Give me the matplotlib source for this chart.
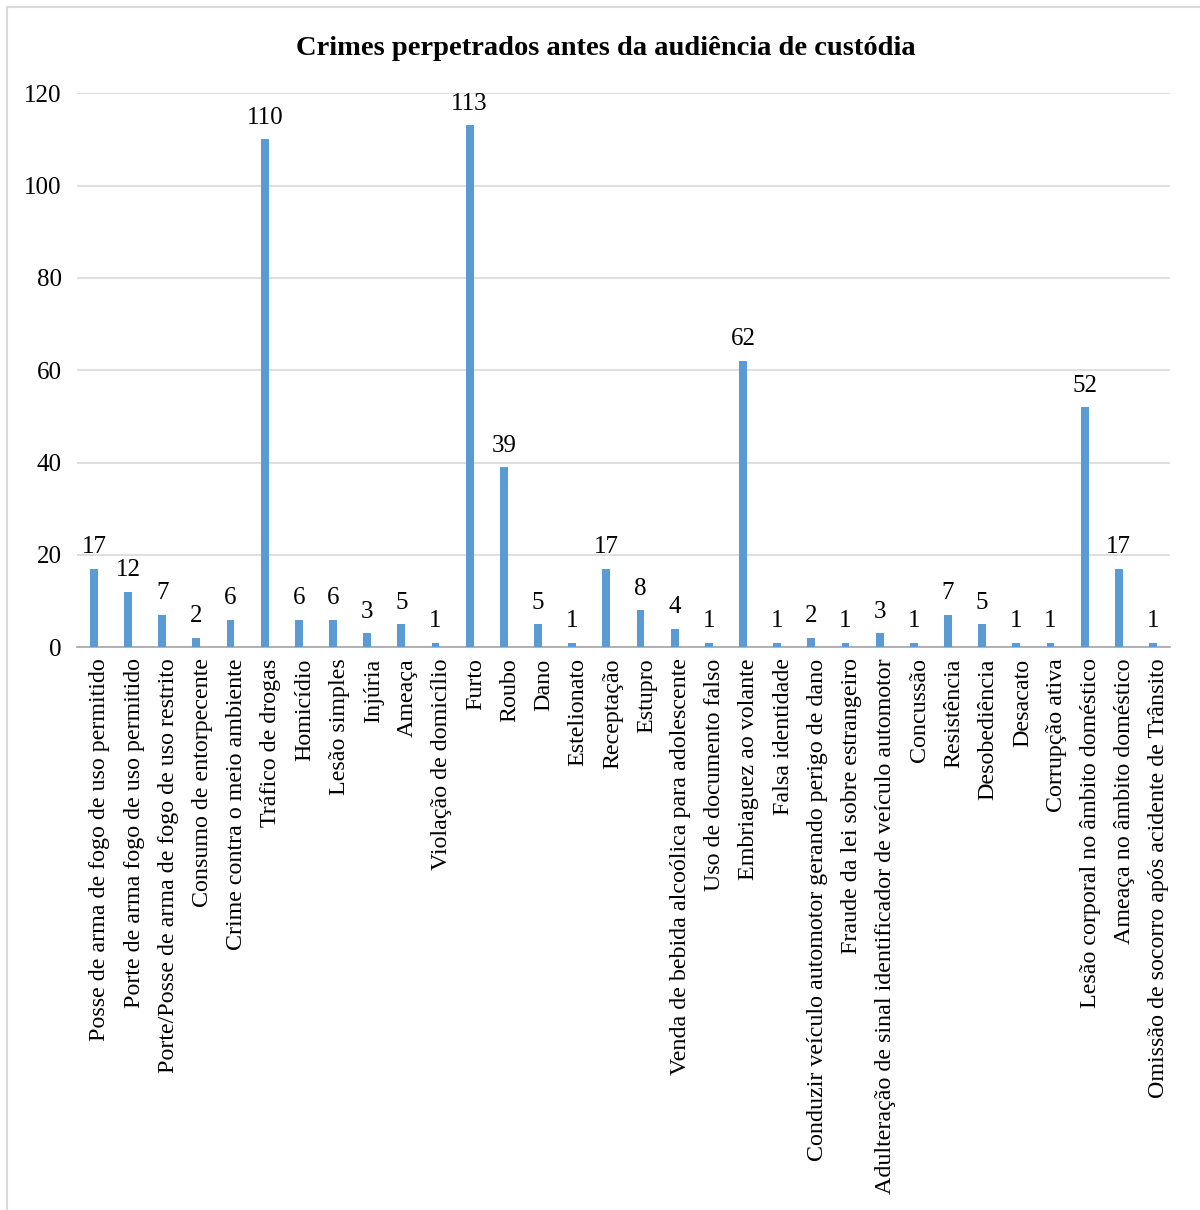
import matplotlib
matplotlib.use("Agg")
import matplotlib.pyplot as plt
import matplotlib.transforms as mtransforms
from matplotlib.patches import Rectangle

plt.rcParams['font.family'] = ['Liberation Serif', 'DejaVu Serif']

crimes = [
    "Posse de arma de fogo de uso permitido",
    "Porte de arma fogo de uso permitido",
    "Porte/Posse de arma de fogo de uso restrito",
    "Consumo de entorpecente",
    "Crime contra o meio ambiente",
    "Tráfico de drogas",
    "Homicídio",
    "Lesão simples",
    "Injúria",
    "Ameaça",
    "Violação de domicílio",
    "Furto",
    "Roubo",
    "Dano",
    "Estelionato",
    "Receptação",
    "Estupro",
    "Venda de bebida alcoólica para adolescente",
    "Uso de documento falso",
    "Embriaguez ao volante",
    "Falsa identidade",
    "Conduzir veículo automotor gerando perigo de dano",
    "Fraude da lei sobre estrangeiro",
    "Adulteração de sinal identificador de veículo automotor",
    "Concussão",
    "Resistência",
    "Desobediência",
    "Desacato",
    "Corrupção ativa",
    "Lesão corporal no âmbito doméstico",
    "Ameaça no âmbito doméstico",
    "Omissão de socorro após acidente de Trânsito",
]
counts = [17, 12, 7, 2, 6, 110, 6, 6, 3, 5, 1, 113, 39, 5, 1, 17, 8, 4, 1, 62,
          1, 2, 1, 3, 1, 7, 5, 1, 1, 52, 17, 1]
yticks = [0, 20, 40, 60, 80, 100, 120]

fig = plt.figure(figsize=(12, 12.1), dpi=100)
ax = fig.add_axes([0.064, 0.465, 0.911, 0.458])

x = range(len(crimes))
bars = ax.bar(x, counts, width=0.23, color='#5b9bd5', zorder=3)
for b, v in zip(bars, counts):
    ax.text(b.get_x() + b.get_width() / 2, v + 2.3, str(v),
            ha='center', va='bottom', fontsize=18)

ax.set_xlim(-0.5, len(crimes) - 0.5)
ax.set_ylim(0, 120)
ax.set_yticks(yticks)
ax.set_xticks(list(x))
ax.set_xticklabels(crimes, rotation=90, fontsize=17.3)
ax.tick_params(axis='y', labelsize=18, length=0, pad=11)
ax.tick_params(axis='x', length=0, pad=8)
# labels sit a bit right of the bar centre in the original
shift = mtransforms.ScaledTranslation(6 / 100, 0, fig.dpi_scale_trans)
for lab in ax.get_xticklabels():
    lab.set_transform(lab.get_transform() + shift)
ax.grid(axis='y', color='#d9d9d9', linewidth=1.2, zorder=0)
for s in ['top', 'right', 'left']:
    ax.spines[s].set_visible(False)
ax.spines['bottom'].set_color('#a6a6a6')
ax.spines['bottom'].set_linewidth(1.2)

fig.text(0.505, 0.960, "Crimes perpetrados antes da audiência de custódia",
         ha='center', va='center', fontsize=20.5, fontweight='bold')

fig.patches.append(Rectangle((0.006, -0.01), 1.0, 1.004,
                             transform=fig.transFigure, fill=False,
                             edgecolor='#d9d9d9', linewidth=1.5))

fig.savefig("out.png", dpi=100)
